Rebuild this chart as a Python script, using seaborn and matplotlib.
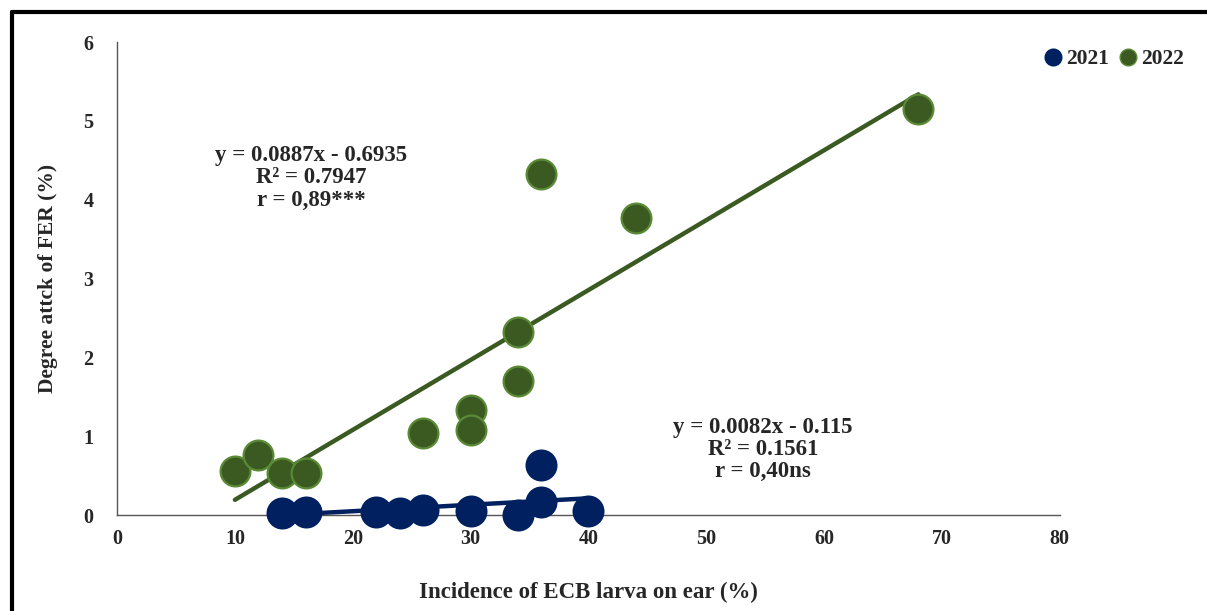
import numpy as np
import pandas as pd
import seaborn as sns
import matplotlib.pyplot as plt
from matplotlib.lines import Line2D

# incidence of ECB larva (%) vs degree of FER attack (%)
x_2021 = [14, 16, 22, 24, 26, 30, 34, 36, 36, 40]
y_2021 = [0.03, 0.04, 0.04, 0.02, 0.07, 0.05, 0.00, 0.16, 0.63, 0.05]
x_2022 = [10, 12, 14, 16, 26, 30, 30, 34, 34, 36, 44, 68]
y_2022 = [0.56, 0.76, 0.53, 0.54, 1.04, 1.33, 1.08, 1.70, 2.32, 4.33, 3.77, 5.15]

years = ["2021", "2022"]
slopes = [0.0082, 0.0887]
intercepts = [-0.115, -0.6935]
eq_text = [
    "y = 0.0082x - 0.115\nR² = 0.1561\nr = 0,40ns",
    "y = 0.0887x - 0.6935\nR² = 0.7947\nr = 0,89***",
]

fill_colors = {"2021": "#002060", "2022": "#3a5a22"}
edge_colors = {"2021": "#002060", "2022": "#5a8a36"}

df = pd.DataFrame({
    "x": x_2021 + x_2022,
    "y": y_2021 + y_2022,
    "year": ["2021"] * len(x_2021) + ["2022"] * len(x_2022),
})

sns.set_style("white")
plt.rcParams["font.family"] = ["Liberation Serif", "DejaVu Serif"]
plt.rcParams["font.weight"] = "bold"

fig = plt.figure(figsize=(12.07, 6.11), dpi=100)
ax = fig.add_axes([0.097, 0.157, 0.781, 0.774])

# trend lines (drawn first, points sit on top)
for yr, a, b in zip(years, slopes, intercepts):
    xs = np.array([df.loc[df.year == yr, "x"].min(), df.loc[df.year == yr, "x"].max()])
    line_df = pd.DataFrame({"x": xs, "y": a * xs + b})
    sns.lineplot(data=line_df, x="x", y="y", ax=ax, color=fill_colors[yr],
                 linewidth=3.2, legend=False, zorder=2)

for yr in years:
    sub = df[df.year == yr]
    sns.scatterplot(data=sub, x="x", y="y", ax=ax, s=460, color=fill_colors[yr],
                    edgecolor=edge_colors[yr], linewidth=1.6, legend=False,
                    zorder=3, clip_on=False)

ax.set_xlim(0, 80)
ax.set_ylim(0, 6)
ax.set_xticks(range(0, 81, 10))
ax.set_yticks(range(0, 7))
ax.tick_params(axis="both", length=0, labelsize=14.5)
ax.tick_params(axis="x", pad=10)
ax.tick_params(axis="y", pad=17)
for lab in ax.get_xticklabels() + ax.get_yticklabels():
    lab.set_fontweight("bold")

for side in ["top", "right"]:
    ax.spines[side].set_visible(False)
for side in ["left", "bottom"]:
    ax.spines[side].set_color("#555555")
    ax.spines[side].set_linewidth(1.0)

ax.set_xlabel("Incidence of ECB larva on ear (%)", fontsize=16.5, fontweight="bold", labelpad=24)
ax.set_ylabel("Degree attck of FER (%)", fontsize=15.5, fontweight="bold", labelpad=18)

ax.text(16.5, 4.28, eq_text[1], ha="center", va="center", fontsize=16.5,
        fontweight="bold", linespacing=1.08)
ax.text(54.8, 0.83, eq_text[0], ha="center", va="center", fontsize=16.5,
        fontweight="bold", linespacing=1.08)

handles = [Line2D([], [], marker="o", linestyle="", markersize=12,
                  markerfacecolor=fill_colors[yr], markeredgecolor=edge_colors[yr])
           for yr in years]
fig.legend(handles, years, loc="center right", bbox_to_anchor=(0.988, 0.903), ncol=2,
           frameon=False, handletextpad=0.0, columnspacing=0.3, borderaxespad=0,
           handlelength=1.2, prop={"weight": "bold", "size": 15.5})

# black frame along top and left of the picture
fig.add_artist(Line2D([0.01, 1.0], [0.98, 0.98], color="black", linewidth=3,
                      transform=fig.transFigure))
fig.add_artist(Line2D([0.01, 0.01], [0.0, 0.98], color="black", linewidth=3,
                      transform=fig.transFigure))

fig.savefig("out.png", dpi=100)
